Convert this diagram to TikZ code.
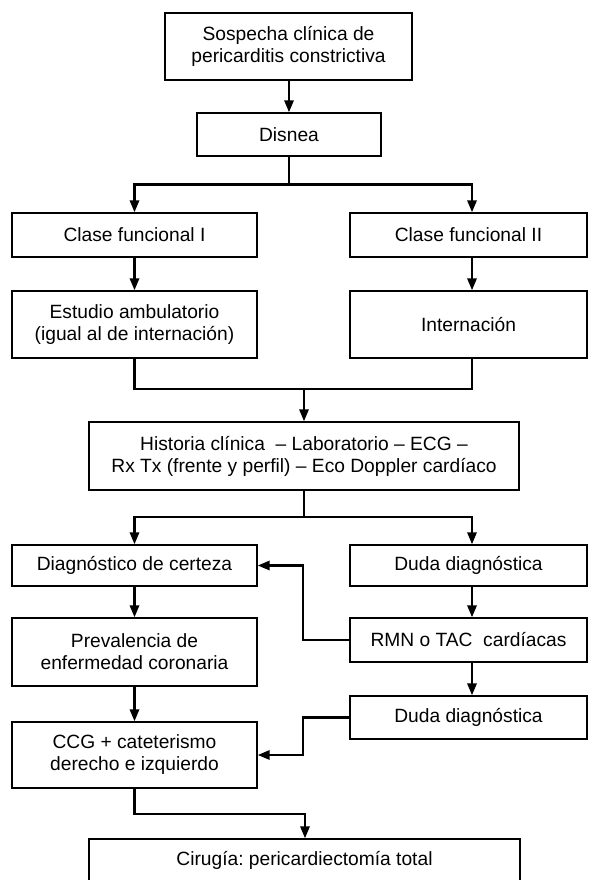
\documentclass[tikz,border=0pt]{standalone}
\usepackage{fontspec}
\setmainfont{Liberation Sans}
\usetikzlibrary{arrows.meta,calc}
\frenchspacing
\begin{document}
\begin{tikzpicture}[x=0.75pt,y=-0.75pt,
  box/.style={draw,line width=1.1pt,rectangle,inner sep=0pt,align=center,
    font=\fontsize{14.4}{16.5}\selectfont},
  wl/.style={box,minimum width=183.75pt},
  wr/.style={box,minimum width=177.75pt},
  conn/.style={line width=1.7pt,-{Triangle[length=9pt,width=7pt]}},
  plainline/.style={line width=1.7pt}]
\useasboundingbox (0,0) rectangle (588,880);

\node[box,minimum width=185.25pt,minimum height=50.25pt] (top) at (288.5,46.5) {Sospecha clínica de\\pericarditis constrictiva};
\node[box,minimum width=138pt,minimum height=32.25pt] (disnea) at (289,134.5) {Disnea};
\node[wl,minimum height=33pt] (c1) at (134.5,235) {Clase funcional I};
\node[wr,minimum height=33pt] (c2) at (468.5,235) {Clase funcional II};
\node[wl,minimum height=50.25pt] (e1) at (134.5,324.5) {Estudio ambulatorio\\(igual al de internación)};
\node[wr,minimum height=50.25pt] (int) at (468.5,324.5) {Internación};
\node[box,minimum width=322.5pt,minimum height=51pt] (hist) at (304,456) {Historia clínica~ – Laboratorio – ECG –\\Rx Tx (frente y perfil) – Eco Doppler cardíaco};
\node[wl,minimum height=30.75pt] (dc) at (134.5,565.5) {Diagnóstico de certeza};
\node[wr,minimum height=30.75pt] (dd1) at (468.5,565.5) {Duda diagnóstica};
\node[wl,minimum height=51pt] (prev) at (134.5,652) {Prevalencia de\\enfermedad coronaria};
\node[wr,minimum height=33pt] (rmn) at (468.5,640) {RMN o TAC~ cardíacas};
\node[wr,minimum height=32.25pt] (dd2) at (468.5,717.5) {Duda diagnóstica};
\node[wl,minimum height=49.5pt] (ccg) at (134.5,755) {CCG + cateterismo\\derecho e izquierdo};
\node[box,minimum width=323.25pt,minimum height=31.5pt] (cir) at (304.5,860) {Cirugía: pericardiectomía total};

\coordinate (R) at (472,0);
\coordinate (FB) at (303,0);
\coordinate (f1) at (289,184.5);
\coordinate (j) at (304,389);
\coordinate (b) at (304,517);
\coordinate (k) at (305,814);

\draw[conn] (top.south -| disnea.north) -- (disnea.north);
\draw[plainline] (disnea.south) -- (f1);
\draw[conn] (f1) -| (c1.north);
\draw[conn] (f1) -| (R |- c2.north);
\draw[conn] (c1.south) -- (e1.north);
\draw[conn] (R |- c2.south) -- (R |- int.north);
\draw[plainline] (e1.south) |- (j);
\draw[plainline] (R |- int.south) |- (j);
\draw[conn] (j) -- (hist.north);
\draw[plainline] (hist.south) -- (b);
\draw[conn] (b) -| (dc.north);
\draw[conn] (b) -| (R |- dd1.north);
\draw[conn] (dc.south) -- (prev.north);
\draw[conn] (R |- dd1.south) -- (R |- rmn.north);
\draw[conn] (rmn.west) -| (FB |- dc.east) -- (dc.east);
\draw[conn] (R |- rmn.south) -- (R |- dd2.north);
\draw[conn] (dd2.west) -| (FB |- ccg.east) -- (ccg.east);
\draw[conn] (prev.south) -- (ccg.north);
\draw[conn] (ccg.south) |- (k) -- (k |- cir.north);
\end{tikzpicture}
\end{document}
